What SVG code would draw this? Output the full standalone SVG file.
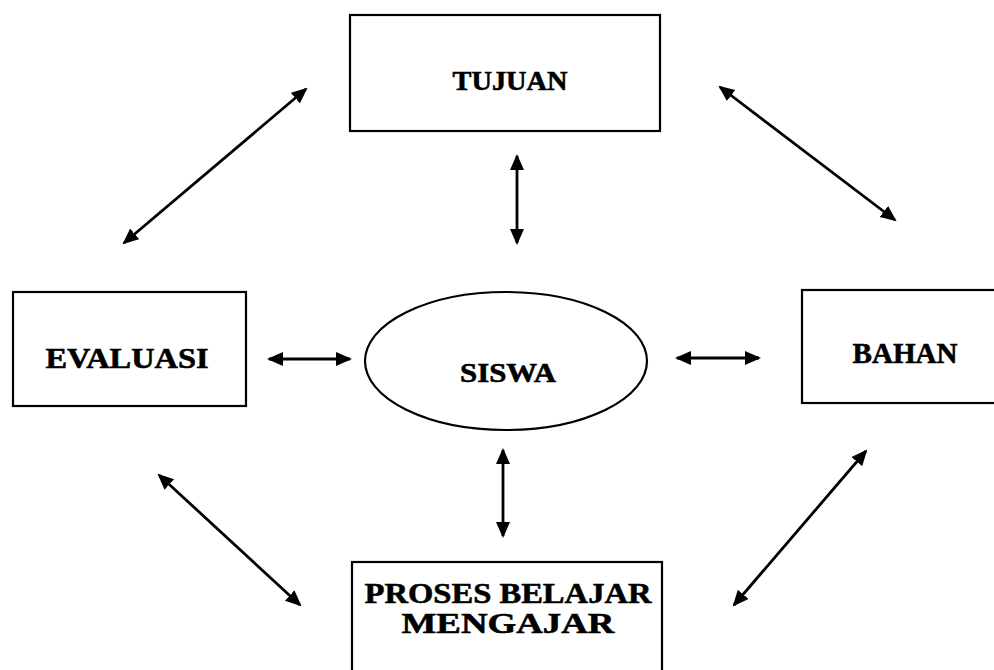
<svg xmlns="http://www.w3.org/2000/svg" width="994" height="670" viewBox="0 0 994 670">
<style>
.box{fill:#fff;stroke:#000;stroke-width:2.2}
.lbl{font-family:"Liberation Serif","Times New Roman",serif;font-weight:bold;fill:#000;stroke:#000;stroke-width:0.6;text-anchor:middle}
.con{stroke:#000;stroke-width:2.8;fill:none;marker-start:url(#ah);marker-end:url(#ah)}
</style>
<defs>
<marker id="ah" markerUnits="userSpaceOnUse" markerWidth="18" markerHeight="16" refX="14" refY="7" orient="auto-start-reverse">
<path d="M0,0 L16,7 L0,14 z" fill="#000"/>
</marker>
</defs>
<rect width="994" height="670" fill="#fff"/>
<g id="tujuan">
<rect class="box" x="350" y="15" width="310" height="116"/>
<text class="lbl" x="510" y="90" font-size="28" textLength="115" lengthAdjust="spacingAndGlyphs">TUJUAN</text>
</g>
<g id="evaluasi">
<rect class="box" x="13" y="292" width="233" height="114"/>
<text class="lbl" x="127" y="368" font-size="29" textLength="163" lengthAdjust="spacingAndGlyphs">EVALUASI</text>
</g>
<g id="siswa">
<ellipse class="box" cx="506" cy="361" rx="141" ry="69"/>
<text class="lbl" x="508" y="382" font-size="28" textLength="96" lengthAdjust="spacingAndGlyphs">SISWA</text>
</g>
<g id="bahan">
<rect class="box" x="802" y="290" width="200" height="113"/>
<text class="lbl" x="905" y="363" font-size="29" textLength="105" lengthAdjust="spacingAndGlyphs">BAHAN</text>
</g>
<g id="proses">
<rect class="box" x="352" y="562" width="310" height="120"/>
<text class="lbl" x="508" y="603" font-size="30" textLength="287" lengthAdjust="spacingAndGlyphs">PROSES BELAJAR</text>
<text class="lbl" x="508" y="633" font-size="30" textLength="213" lengthAdjust="spacingAndGlyphs">MENGAJAR</text>
</g>
<g id="connectors">
<line class="con" x1="124" y1="243" x2="306" y2="89"/>
<line class="con" x1="720" y1="87" x2="895" y2="220"/>
<line class="con" x1="159" y1="475" x2="300" y2="605"/>
<line class="con" x1="866" y1="451" x2="734" y2="605"/>
<line class="con" x1="517" y1="156" x2="517" y2="243"/>
<line class="con" x1="503" y1="450" x2="503" y2="536"/>
<line class="con" x1="269" y1="359" x2="350" y2="359"/>
<line class="con" x1="677" y1="358" x2="759" y2="358"/>
</g>
</svg>
